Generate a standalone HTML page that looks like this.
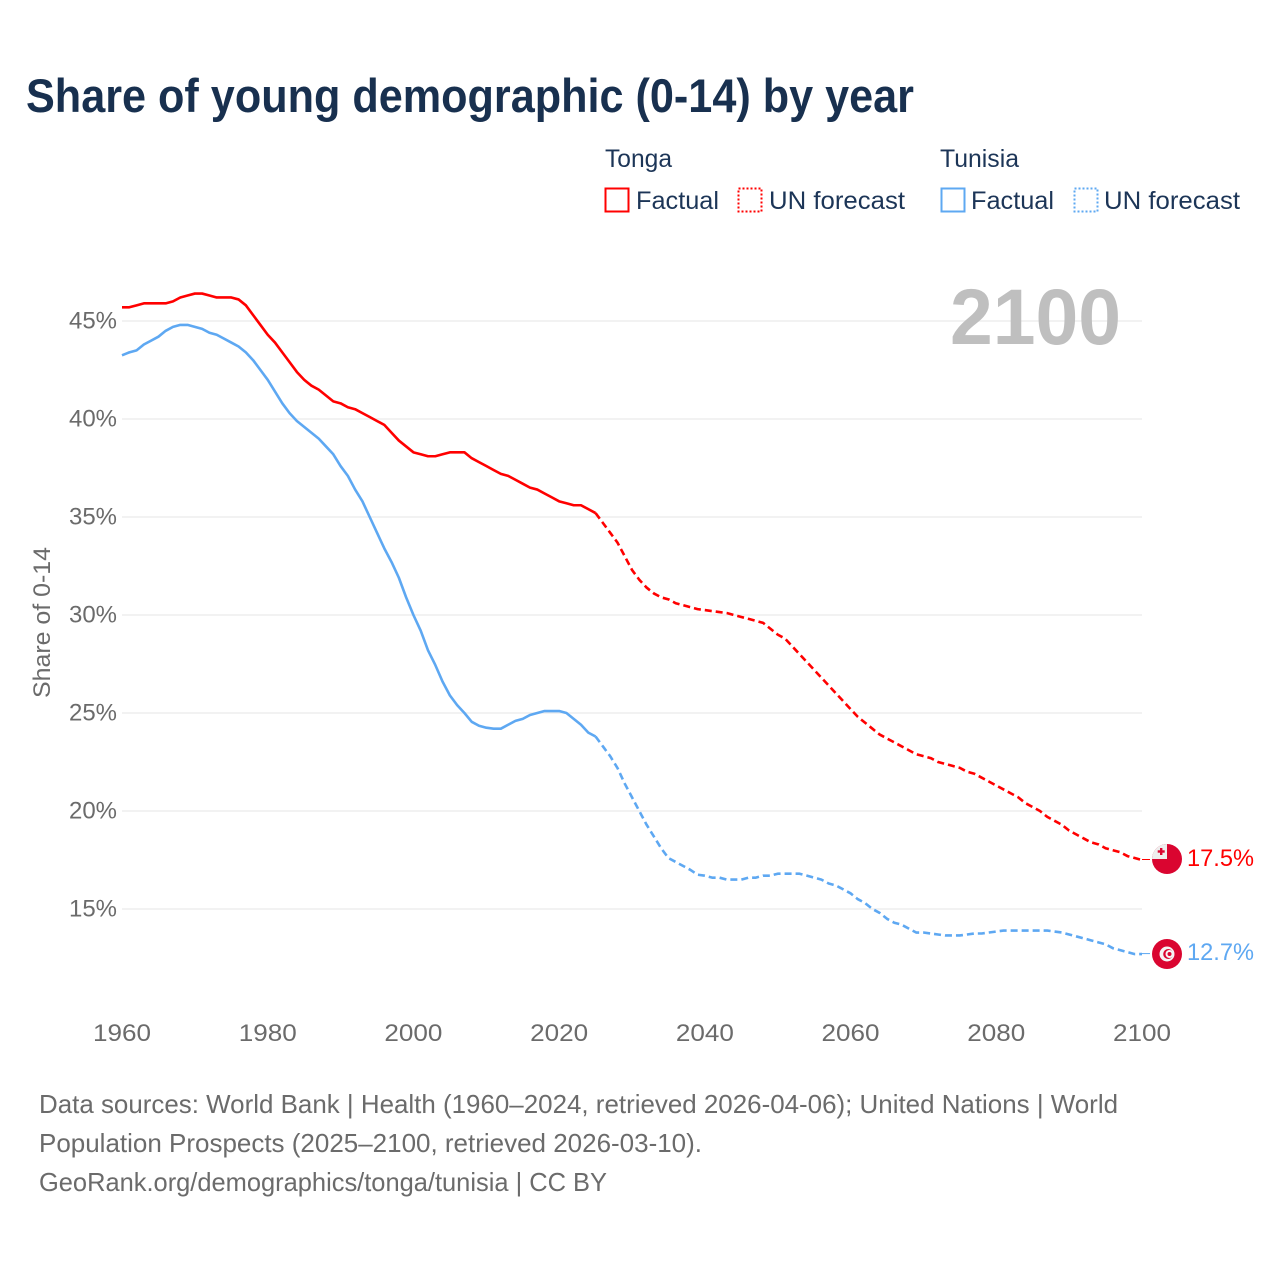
<!DOCTYPE html>
<html lang="en">
<head>
<meta charset="utf-8">
<title>Share of young demographic (0-14) by year</title>
<style>
html,body{margin:0;padding:0;background:#fff;width:1280px;height:1280px;overflow:hidden}
svg{display:block}
text{font-family:"Liberation Sans",sans-serif}
.leg{font-size:25px;fill:#1c3557}
.src{font-size:26px;fill:#6b6b6b}
</style>
</head>
<body>
<svg id="chart" width="1280" height="1280" viewBox="0 0 1280 1280" xmlns="http://www.w3.org/2000/svg">
  <text x="26" y="112" font-size="47" font-weight="700" fill="#18304f" textLength="888" lengthAdjust="spacingAndGlyphs">Share of young demographic (0-14) by year</text>

  <g>
    <text class="leg" x="605" y="167" textLength="67" lengthAdjust="spacingAndGlyphs">Tonga</text>
    <rect x="605.5" y="188.5" width="23" height="23" fill="none" stroke="#ff0000" stroke-width="2"/>
    <text class="leg" x="636" y="209" textLength="83" lengthAdjust="spacingAndGlyphs">Factual</text>
    <rect x="738.5" y="188.5" width="23" height="23" fill="none" stroke="#ff0000" stroke-width="2" stroke-dasharray="2 2"/>
    <text class="leg" x="769" y="209" textLength="136" lengthAdjust="spacingAndGlyphs">UN forecast</text>

    <text class="leg" x="940" y="167" textLength="79" lengthAdjust="spacingAndGlyphs">Tunisia</text>
    <rect x="941.5" y="188.5" width="23" height="23" fill="none" stroke="#5ea8f2" stroke-width="2"/>
    <text class="leg" x="971" y="209" textLength="83" lengthAdjust="spacingAndGlyphs">Factual</text>
    <rect x="1074.5" y="188.5" width="23" height="23" fill="none" stroke="#5ea8f2" stroke-width="2" stroke-dasharray="2 2"/>
    <text class="leg" x="1104" y="209" textLength="136" lengthAdjust="spacingAndGlyphs">UN forecast</text>
  </g>

  <g id="grid"></g>
  <g id="yticks"></g>
  <g id="xticks"></g>
  <text transform="translate(50,698) rotate(-90)" font-size="24" fill="#6b6b6b" textLength="151" lengthAdjust="spacingAndGlyphs">Share of 0-14</text>

  <text x="950" y="344" font-size="79" font-weight="700" fill="#bfbfbf" textLength="171" lengthAdjust="spacingAndGlyphs">2100</text>

  <g id="series"></g>

  <g id="flag-tonga">
    <clipPath id="clip-tonga"><circle cx="1167" cy="859" r="15"/></clipPath>
    <circle cx="1167" cy="859" r="15" fill="#da0530"/>
    <rect x="1152" y="844" width="15" height="15" fill="#eeeeee" clip-path="url(#clip-tonga)"/>
    <rect x="1160" y="848" width="2.4" height="7" fill="#da0530"/>
    <rect x="1157.7" y="850.3" width="7" height="2.4" fill="#da0530"/>
  </g>
  <g id="flag-tunisia">
    <circle cx="1167" cy="954" r="15" fill="#da0530"/>
    <circle cx="1167" cy="954" r="7.5" fill="#f4f4f4"/>
    <circle cx="1168.2" cy="954" r="5" fill="#da0530"/>
    <circle cx="1169.5" cy="954" r="4" fill="#f4f4f4"/>
    <circle cx="1169.5" cy="954" r="2" fill="#da0530"/>
  </g>
  <text x="1187" y="866" font-size="24" fill="#ff0000" textLength="67" lengthAdjust="spacingAndGlyphs">17.5%</text>
  <text x="1187" y="960" font-size="24" fill="#5ea8f2" textLength="67" lengthAdjust="spacingAndGlyphs">12.7%</text>

  <g>
    <text class="src" x="39" y="1113" textLength="1079" lengthAdjust="spacingAndGlyphs">Data sources: World Bank | Health (1960–2024, retrieved 2026-04-06); United Nations | World</text>
    <text class="src" x="39" y="1152" textLength="663" lengthAdjust="spacingAndGlyphs">Population Prospects (2025–2100, retrieved 2026-03-10).</text>
    <text class="src" x="39" y="1191" textLength="568" lengthAdjust="spacingAndGlyphs">GeoRank.org/demographics/tonga/tunisia | CC BY</text>
  </g>
</svg>
<script>
const xTickLabels = [1960, 1980, 2000, 2020, 2040, 2060, 2080, 2100];
const yTickLabels = [15, 20, 25, 30, 35, 40, 45];
const factualStartYear = 1960;
const forecastStartYear = 2025;

const tongaFactual = [45.7,45.7,45.8,45.9,45.9,45.9,45.9,46.0,46.2,46.3,46.4,46.4,46.3,46.2,46.2,46.2,46.1,45.8,45.3,44.8,44.3,43.9,43.4,42.9,42.4,42.0,41.7,41.5,41.2,40.9,40.8,40.6,40.5,40.3,40.1,39.9,39.7,39.3,38.9,38.6,38.3,38.2,38.1,38.1,38.2,38.3,38.3,38.3,38.0,37.8,37.6,37.4,37.2,37.1,36.9,36.7,36.5,36.4,36.2,36.0,35.8,35.7,35.6,35.6,35.4,35.2];
const tongaForecast = [35.2,34.7,34.2,33.7,33.0,32.3,31.8,31.4,31.1,30.9,30.8,30.6,30.5,30.4,30.3,30.25,30.2,30.15,30.1,30.0,29.9,29.8,29.7,29.6,29.3,29.0,28.8,28.4,28.0,27.6,27.2,26.8,26.4,26.0,25.6,25.2,24.8,24.5,24.2,23.9,23.7,23.5,23.3,23.1,22.9,22.8,22.7,22.5,22.4,22.3,22.2,22.0,21.9,21.7,21.5,21.3,21.1,20.9,20.7,20.4,20.2,20.0,19.7,19.5,19.3,19.0,18.8,18.6,18.4,18.3,18.1,18.0,17.9,17.7,17.6,17.5];
const tunisiaFactual = [43.25,43.4,43.5,43.8,44.0,44.2,44.5,44.7,44.8,44.8,44.7,44.6,44.4,44.3,44.1,43.9,43.7,43.4,43.0,42.5,42.0,41.4,40.8,40.3,39.9,39.6,39.3,39.0,38.6,38.2,37.6,37.1,36.4,35.8,35.0,34.2,33.4,32.7,31.9,30.9,30.0,29.2,28.2,27.45,26.6,25.9,25.4,25.0,24.55,24.35,24.25,24.2,24.2,24.4,24.6,24.7,24.9,25.0,25.1,25.1,25.1,25.0,24.7,24.4,24.0,23.8];
const tunisiaForecast = [23.8,23.3,22.8,22.2,21.4,20.7,20.0,19.3,18.7,18.1,17.6,17.4,17.2,17.0,16.75,16.7,16.6,16.6,16.5,16.5,16.5,16.6,16.6,16.7,16.7,16.8,16.8,16.8,16.8,16.7,16.6,16.5,16.3,16.2,16.0,15.8,15.5,15.3,15.0,14.8,14.5,14.3,14.2,14.0,13.8,13.8,13.75,13.7,13.65,13.65,13.65,13.7,13.75,13.75,13.8,13.85,13.9,13.9,13.9,13.9,13.9,13.9,13.9,13.85,13.8,13.7,13.6,13.5,13.4,13.3,13.2,13.0,12.9,12.8,12.7,12.7];

const SVGNS = 'http://www.w3.org/2000/svg';
function xScale(year){ return 122 + (year - 1960) * (1142 - 122) / 140; }
function yScale(v){ return 321 + (45 - v) * 19.6; }
function make(tag, parent){
  const el = document.createElementNS(SVGNS, tag);
  parent.appendChild(el);
  return el;
}

const grid = document.getElementById('grid');
const yticks = document.getElementById('yticks');
const xticks = document.getElementById('xticks');
const seriesGroup = document.getElementById('series');

yTickLabels.forEach(function(v){
  const line = make('line', grid);
  
  
  line.setAttribute('x1', xScale(1960));
  line.setAttribute('x2', xScale(2100));
  line.setAttribute('y1', yScale(v));
  line.setAttribute('y2', yScale(v));
  line.setAttribute('stroke', '#eeeeee');
  line.setAttribute('stroke-width', '1.5');

  const label = make('text', yticks);
  
  
  label.setAttribute('x', 117);
  label.setAttribute('y', yScale(v) + 7.5);
  label.setAttribute('text-anchor', 'end');
  label.setAttribute('font-size', '24');
  label.setAttribute('fill', '#6b6b6b');
  label.setAttribute('textLength', '48');
  label.setAttribute('lengthAdjust', 'spacingAndGlyphs');
  label.textContent = v + '%';
});

xTickLabels.forEach(function(year){
  const label = make('text', xticks);
  
  
  label.setAttribute('x', xScale(year) - 29);
  label.setAttribute('y', 1041);
  label.setAttribute('font-size', '24');
  label.setAttribute('fill', '#6b6b6b');
  label.setAttribute('textLength', '58');
  label.setAttribute('lengthAdjust', 'spacingAndGlyphs');
  label.textContent = year;
});

function pathFor(values, startYear){
  return values.map(function(v, i){
    return (i ? 'L' : 'M') + xScale(startYear + i).toFixed(2) + ' ' + yScale(v).toFixed(2);
  }).join(' ');
}
function drawSeries(values, startYear, color, dashed, name){
  const p = make('path', seriesGroup);
  
  
  p.setAttribute('d', pathFor(values, startYear));
  p.setAttribute('fill', 'none');
  p.setAttribute('stroke', color);
  p.setAttribute('stroke-width', '2.6');
  p.setAttribute('stroke-linejoin', 'round');
  if (dashed) p.setAttribute('stroke-dasharray', '7 4');
}
function drawConnector(value, color, name){
  const c = make('line', seriesGroup);
  
  
  c.setAttribute('x1', xScale(2100));
  c.setAttribute('x2', xScale(2100) + 8);
  c.setAttribute('y1', yScale(value) - 0.5);
  c.setAttribute('y2', yScale(value) - 0.5);
  c.setAttribute('stroke', color);
  c.setAttribute('stroke-width', '1');
}

drawSeries(tongaFactual, factualStartYear, '#ff0000', false, 'tonga-factual-line');
drawSeries(tongaForecast, forecastStartYear, '#ff0000', true, 'tonga-forecast-line');
drawSeries(tunisiaFactual, factualStartYear, '#5ea8f2', false, 'tunisia-factual-line');
drawSeries(tunisiaForecast, forecastStartYear, '#5ea8f2', true, 'tunisia-forecast-line');
drawConnector(tongaForecast[tongaForecast.length - 1], '#ff0000', 'tonga-end-connector');
drawConnector(tunisiaForecast[tunisiaForecast.length - 1], '#5ea8f2', 'tunisia-end-connector');
</script>
</body>
</html>
